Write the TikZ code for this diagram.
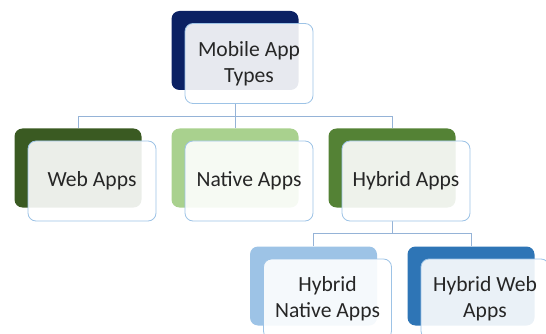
\documentclass[tikz,border=0pt]{standalone}
\usepackage{fontspec}
\setmainfont{Carlito}
\usetikzlibrary{positioning}
\definecolor{navyback}{HTML}{0B2163}
\definecolor{darkgreen}{HTML}{3A5A22}
\definecolor{lightgreen}{HTML}{A9D18E}
\definecolor{midgreen}{HTML}{548235}
\definecolor{lightblue}{HTML}{9DC3E6}
\definecolor{midblue}{HTML}{2E75B6}
\definecolor{edgeblue}{HTML}{9DC3E6}
\definecolor{linkblue}{HTML}{95B3D7}
\begin{document}
\begin{tikzpicture}[x=1pt,y=-1pt,
    back/.style={rectangle,rounded corners=8pt,minimum width=127pt,minimum height=79pt,inner sep=0pt},
    front/.style={rectangle,rounded corners=8pt,draw=edgeblue,line width=0.8pt,fill=white,fill opacity=0.9,text opacity=1,
      minimum width=128pt,minimum height=80pt,inner sep=2pt,align=center,text=black!85,
      font=\fontsize{21.6}{26}\selectfont},
    link/.style={draw=linkblue,line width=0.8pt}]
  \useasboundingbox (0,0) rectangle (546,334);
  \node[back,fill=navyback] (topb) at (235,50.5) {};
  \node[back,fill=darkgreen] (webb) at (78,168) {};
  \node[back,fill=lightgreen] (natb) at (235,168) {};
  \node[back,fill=midgreen] (hybb) at (392,168) {};
  \node[back,fill=lightblue] (hnatb) at (313.5,286) {};
  \node[back,fill=midblue] (hwebb) at (471,286) {};
  \coordinate (j1) at ([yshift=-13pt]topb.center |- 0,103);
  \coordinate (j2) at ([yshift=-12pt]hybb.center |- 0,221);
  \path[link] (topb.center |- 0,103) -- (j1) -| (webb.north);
  \path[link] (j1) -| (natb.north);
  \path[link] (j1) -| (hybb.north);
  \path[link] (hybb.center |- 0,221) -- (j2) -| (hnatb.north);
  \path[link] (j2) -| (hwebb.north);
  \node[front] (topf) at ([shift={(14,13)}]topb.center) {Mobile App\\Types};
  \node[front] (webf) at ([shift={(14,13)}]webb.center) {Web Apps};
  \node[front] (natf) at ([shift={(14,13)}]natb.center) {Native Apps};
  \node[front] (hybf) at ([shift={(14,13)}]hybb.center) {Hybrid Apps};
  \node[front] (hnatf) at ([shift={(14,13)}]hnatb.center) {Hybrid\\Native Apps};
  \node[front] (hwebf) at ([shift={(14,13)}]hwebb.center) {Hybrid Web\\Apps};
\end{tikzpicture}
\end{document}
